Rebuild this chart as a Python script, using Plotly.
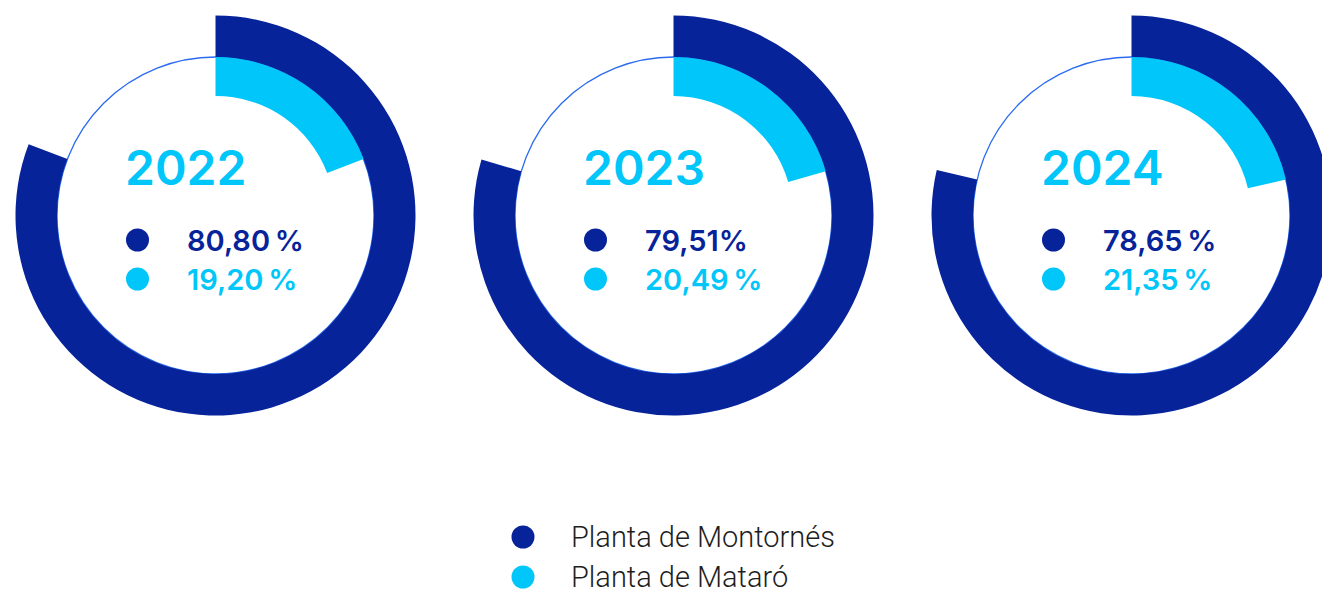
import plotly.graph_objects as go

years = ["2022", "2023", "2024"]
montornes = [80.80, 79.51, 78.65]
mataro = [19.20, 20.49, 21.35]
labels_montornes = ["80,80\u2009%", "79,51%", "78,65\u2009%"]
labels_mataro = ["19,20\u2009%", "20,49\u2009%", "21,35\u2009%"]
legend_names = ["Planta de Montornés", "Planta de Mataró"]

C = {
    "navy": "#07239A",
    "cyan": "#00C6F9",
    "line": "#2A6BF0",
    "text": "#1E1E1E",
}

W, H = 1332, 590
R_OUT, R_MID, R_IN = 200, 158.5, 119.5
CY = 215.5
STEP = 458


def px(x):
    return x / W


def py(y):
    return 1 - y / H


def dom(cx, r):
    return dict(x=[px(cx - r), px(cx + r)], y=[py(CY + r), py(CY - r)])


fig = go.Figure()
shapes = []
annotations = []

for i, yr in enumerate(years):
    cx = 215.5 + STEP * i
    # thin outline circle
    fig.add_trace(go.Pie(values=[1], domain=dom(cx, R_MID), sort=False,
        marker=dict(colors=["rgba(255,255,255,0)"], line=dict(color=C["line"], width=1.3)),
        textinfo="none", hoverinfo="skip", showlegend=False))
    # Montornés outer ring
    fig.add_trace(go.Pie(values=[montornes[i], mataro[i]], domain=dom(cx, R_OUT),
        hole=R_MID / R_OUT, sort=False, direction="clockwise", rotation=0,
        marker=dict(colors=[C["navy"], "rgba(0,0,0,0)"]),
        textinfo="none", hoverinfo="skip", showlegend=False))
    # Mataró inner ring
    fig.add_trace(go.Pie(values=[mataro[i], montornes[i]], domain=dom(cx, R_MID),
        hole=R_IN / R_MID, sort=False, direction="clockwise", rotation=0,
        marker=dict(colors=[C["cyan"], "rgba(0,0,0,0)"]),
        textinfo="none", hoverinfo="skip", showlegend=False))

    annotations.append(dict(text=yr, x=px(cx - 93), y=py(167), xanchor="left", yanchor="middle",
        font=dict(family="Inter", size=48, color=C["cyan"], weight=600)))
    for j, (lab, col) in enumerate([(labels_montornes[i], C["navy"]), (labels_mataro[i], C["cyan"])]):
        ry = 240 + 39 * j
        annotations.append(dict(text=lab, x=px(cx - 31), y=py(ry), xanchor="left", yanchor="middle",
            font=dict(family="Inter", size=29, color=col, weight=600)))
        shapes.append(dict(type="circle", xref="paper", yref="paper",
            x0=px(cx - 89.5), x1=px(cx - 66.5), y0=py(ry + 11.5), y1=py(ry - 11.5),
            fillcolor=col, line=dict(width=0)))

for j, (name, col) in enumerate(zip(legend_names, [C["navy"], C["cyan"]])):
    ly = 537 + 40 * j
    shapes.append(dict(type="circle", xref="paper", yref="paper",
        x0=px(511.5), x1=px(534.5), y0=py(ly + 11.5), y1=py(ly - 11.5),
        fillcolor=col, line=dict(width=0)))
    annotations.append(dict(text=name, x=px(570), y=py(ly), xanchor="left", yanchor="middle",
        height=26, borderpad=0, valign="middle",
        font=dict(family="Roboto", size=29, color=C["text"], weight=300)))

for a in annotations:
    a.update(xref="paper", yref="paper", showarrow=False)

fig.update_layout(width=W, height=H, margin=dict(l=0, r=0, t=0, b=0),
    paper_bgcolor="white", plot_bgcolor="white",
    shapes=shapes, annotations=annotations)

# the last ring runs past the right edge, so drop the page margin and hide the overflow
fig.write_html("out.html", config={"displayModeBar": False}, post_script=(
    "document.body.style.margin='0';"
    "document.body.style.overflow='hidden';"
    "document.documentElement.style.overflow='hidden';"))
